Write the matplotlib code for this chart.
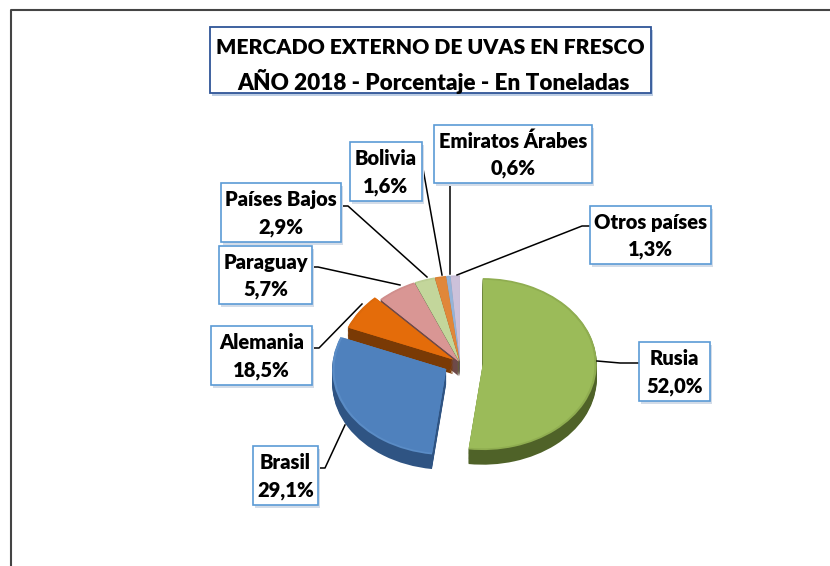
import matplotlib
matplotlib.use('Agg')
import matplotlib.pyplot as plt
import numpy as np
from matplotlib.patches import Rectangle

plt.rcParams['font.family'] = ['Lato', 'DejaVu Sans']

# wedge sizes as drawn (the Alemania label does not match its slice in the original)
countries = ['Rusia', 'Brasil', 'Alemania', 'Paraguay', 'Países Bajos', 'Bolivia', 'Emiratos Árabes', 'Otros países']
sizes = [52.0, 29.1, 6.8, 5.7, 2.9, 1.6, 0.6, 1.3]
labels = ['52,0%', '29,1%', '18,5%', '5,7%', '2,9%', '1,6%', '0,6%', '1,3%']
title_line1 = 'MERCADO EXTERNO DE UVAS EN FRESCO'
title_line2 = 'AÑO 2018 - Porcentaje - En Toneladas'

top_colors = ['#9BBB59', '#4F81BD', '#E46C0A', '#D99694', '#C3D69B', '#E0873A', '#95B3D7', '#CCC1DA']
edge_colors = ['#8FAD50', '#5A8CC6', '#DD690A', '#D08E8C', '#BBCE93', '#D98236', '#8FADD1', '#C5BAD3']
side_colors = ['#4F6228', '#2F5483', '#7A3A05', '#6E4A49', '#5F6B4A', '#7A4515', '#4A5A6E', '#665F70']
explode = [0.2, 0.14, 0.07, 0.02, 0.02, 0.02, 0.02, 0.02]

# box layout in pixels: x0, y0, x1, y1
boxes = {
    'Rusia': (639, 342, 710, 401),
    'Brasil': (253, 446, 318, 505),
    'Alemania': (211, 326, 312, 385),
    'Paraguay': (219, 246, 312, 304),
    'Países Bajos': (221, 183, 341, 242),
    'Bolivia': (350, 142, 422, 201),
    'Emiratos Árabes': (434, 125, 592, 183),
    'Otros países': (590, 206, 711, 264),
}
leaders = {
    'Rusia': [(597, 361), (620, 363), (639, 363)],
    'Brasil': [(318, 468), (325, 468), (345, 425)],
    'Alemania': [(312, 348), (319, 348), (362, 304)],
    'Paraguay': [(312, 267), (318, 267), (400, 285)],
    'Países Bajos': [(341, 206), (348, 206), (427, 277)],
    'Bolivia': [(422, 163), (442, 275)],
    'Emiratos Árabes': [(450, 183), (450, 274)],
    'Otros países': [(590, 226), (582, 226), (457, 275)],
}

W, H = 830, 566
cx, cy, rx, ry = 460, 363, 114, 86

fig = plt.figure(figsize=(W / 100, H / 100), dpi=100, facecolor='white')

# pie axes, squashed so the circle reads as a tilted disc
ax = fig.add_axes([0, 0, 1, 1], zorder=1)
for depth in np.linspace(0.17, 0.01, 12):
    ax.pie(sizes, startangle=90, counterclock=False, colors=side_colors, explode=explode,
           center=(0, -depth), wedgeprops={'linewidth': 0})
ax.pie(sizes, startangle=90, counterclock=False, colors=edge_colors, explode=explode,
       wedgeprops={'linewidth': 0})
ax.pie(sizes, startangle=90, counterclock=False, colors=top_colors, explode=explode, radius=0.98,
       wedgeprops={'linewidth': 0})
ax.set_aspect('auto')
ax.set_xlim(-cx / rx, (W - cx) / rx)
ax.set_ylim((cy - H) / ry, cy / ry)
ax.axis('off')

# overlay in pixel coordinates for frame, boxes and leaders
ov = fig.add_axes([0, 0, 1, 1], zorder=2)
ov.set_xlim(0, W)
ov.set_ylim(H, 0)
ov.axis('off')
ov.patch.set_alpha(0)

ov.plot([11, 11, 830], [566, 10, 10], color='#444444', lw=1.5)

for name in countries:
    pts = leaders[name]
    ov.plot([p[0] for p in pts], [p[1] for p in pts], color='black', lw=1.1, zorder=2)


def draw_box(x0, y0, x1, y1, edge, shadow, lw):
    ov.add_patch(Rectangle((x0 + 2, y0 + 3), x1 - x0, y1 - y0, facecolor=shadow, edgecolor='none', zorder=3))
    ov.add_patch(Rectangle((x0, y0), x1 - x0, y1 - y0, facecolor='white', edgecolor=edge, lw=lw, zorder=4))


for name, lab in zip(countries, labels):
    x0, y0, x1, y1 = boxes[name]
    draw_box(x0, y0, x1, y1, '#5B9BD5', '#D3DCE8', 1.2)
    ov.text((x0 + x1) / 2, (y0 + y1) / 2 + 1, name + '\n' + lab, ha='center', va='center',
            fontsize=14.5, fontweight='heavy', color='black', linespacing=1.5, zorder=5)

draw_box(210, 27, 651, 93, '#2F5597', '#BCCDE3', 1.3)
ov.text(430.5, 47, title_line1, ha='center', va='center', fontsize=15.3, fontweight='heavy',
        color='black', zorder=5)
ov.text(433, 81, title_line2, ha='center', va='center', fontsize=16.2, fontweight='heavy',
        color='black', zorder=5)

fig.savefig('out.png', dpi=100)
